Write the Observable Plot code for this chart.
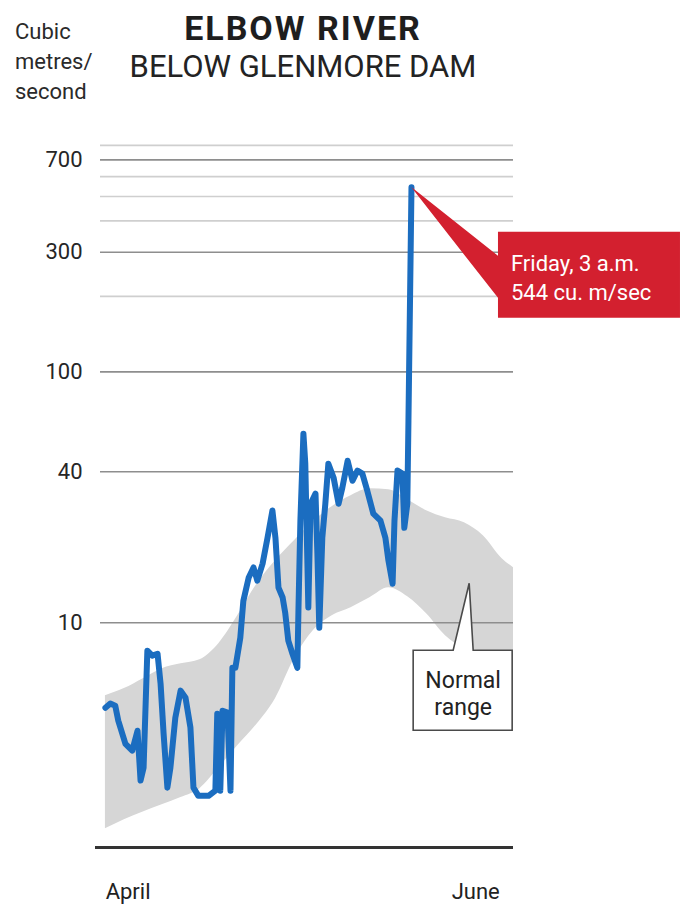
<!DOCTYPE html>
<html>
<head>
<meta charset="utf-8">
<script src="https://cdn.jsdelivr.net/npm/d3@7"></script>
<script src="https://cdn.jsdelivr.net/npm/@observablehq/plot@0.6"></script>
<style>
  body { margin: 0; background: #fff; font-family: Roboto, "Noto Sans", sans-serif; color: #232323; }
  #wrap { position: relative; width: 690px; height: 911px; overflow: hidden; }
  #head { position: relative; height: 110px; }
  .unit { position: absolute; left: 15px; top: 17px; font-size: 22px; line-height: 30px; color: #2a2a2a; }
  .title { position: absolute; left: 0; width: 606px; text-align: center; top: 11px; font-size: 34px; line-height: 34px; font-weight: 700; letter-spacing: 2px; color: #1e1e1e; }
  .subtitle { position: absolute; left: 0; width: 606px; text-align: center; top: 51px; font-size: 31px; line-height: 31px; font-weight: 400; color: #232323; }
  svg { display: block; }
</style>
</head>
<body>
<div id="wrap">
  <div id="head">
    <div class="unit">Cubic<br>metres/<br>second</div>
    <div class="title">ELBOW RIVER</div>
    <div class="subtitle">BELOW GLENMORE DAM</div>
  </div>
</div>
<script>
// ---- Data (days since April 1; flow in cubic metres/second) ----
const flowDays = [0, 1.3, 2.6, 3.4, 5.3, 7.1, 8.5, 9.3, 10.1, 11.1, 12.4, 13.8, 14.6, 15.4, 16.4, 17.2, 18.5, 19.9, 21.2, 22.5,
  23.3, 24.6, 27.3, 29.1, 29.6, 30.4, 31.0, 32.3, 33.1, 33.6, 34.4, 35.7, 36.5, 37.9, 39.2, 40.2, 41.6, 42.9, 44.2, 45.0,
  45.8, 46.9, 47.6, 48.4, 49.5, 50.8, 51.1, 51.6, 52.4, 52.9, 53.5, 53.7, 54.3, 55.6, 56.1, 56.6, 57.4, 58.2, 59.0, 60.4,
  61.7, 62.7, 64.1, 65.4, 66.7, 68.0, 69.3, 70.9, 72.8, 74.1, 74.9, 76.0, 76.5, 77.3, 78.6, 79.1, 79.9, 80.2, 81];
const flowValues = [4.58, 4.76, 4.67, 4.07, 3.29, 3.09, 3.71, 2.35, 2.64, 7.73, 7.39, 7.52, 5.71, 3.61, 2.20, 2.64, 4.18, 5.36, 5.02, 3.82,
  2.20, 2.04, 2.04, 2.14, 4.34, 2.14, 4.46, 4.38, 2.14, 6.61, 6.61, 8.71, 12.2, 15.1, 16.6, 14.7, 17.2, 21.8, 28.0, 21.8,
  13.8, 12.6, 10.9, 8.48, 7.52, 6.61, 11.5, 25.5, 56.7, 43.0, 16.1, 11.5, 29.8, 32.7, 18.8, 9.55, 21.8, 29.8, 43.0, 37.8,
  29.8, 34.5, 44.2, 36.8, 40.4, 39.3, 33.6, 27.2, 25.5, 21.8, 17.7, 14.3, 25.5, 40.4, 39.3, 23.9, 29.8, 63.8, 544];

const bandDays = [0, 5, 10, 15, 20, 25, 30, 35, 40, 45, 50, 55, 60, 65, 70, 75, 80, 85, 90, 95, 100, 105, 108];
const bandLow  = [1.51, 1.64, 1.76, 1.88, 2.01, 2.18, 2.64, 3.23, 3.92, 4.98, 7.19, 9.29, 10.66, 11.48, 12.58, 13.79, 12.69, 10.86, 8.88, 7.95, 7.73, 7.73, 7.73];
const bandHigh = [5.12, 5.46, 5.98, 6.56, 6.86, 7.12, 8.25, 10.66, 14.17, 17.67, 21.23, 25.27, 29.01, 32.08, 34.20, 33.89, 30.92, 27.95, 26.21, 25.04, 22.22, 17.99, 16.57];

const gridValues = [10, 40, 100, 200, 300, 400, 500, 600, 700, 800];
const yTickValues = [10, 40, 100, 300, 700];
const xTickDays = [6, 98];
const xTickLabels = ["April", "June"];

const peakDay = 81;
const peakValue = 544;
const peakLines = ["Friday, 3 a.m.", "544 cu. m/sec"];
const rangeAnchorDay = 96.4;
const rangeAnchorValue = 14.3;
const rangeLines = ["Normal", "range"];

// ---- Tables built from the arrays ----
const flow = flowDays.map((d, i) => ({day: d, value: flowValues[i]}));
const band = bandDays.map((d, i) => ({day: d, low: bandLow[i], high: bandHigh[i]}));
const xTicks = xTickDays.map((d, i) => ({day: d, label: xTickLabels[i]}));
const yMin = 1.27, yMax = 900;

const FONT = "Roboto, 'Noto Sans', sans-serif";

function peakCallout(index, scales) {
  const px = scales.x(peakDay), py = scales.y(peakValue);
  const g = d3.create("svg:g");
  const L = px + 87, R = px + 269, T = py + 45, B = py + 131;
  g.append("path")
    .attr("d", `M${px},${py}L${L},${py + 69}L${L},${T}L${R},${T}L${R},${B}L${L},${B}L${L},${py + 111}Z`)
    .attr("fill", "#d3202f");
  const t = g.append("g").attr("fill", "#fff").attr("font-family", FONT).attr("font-size", 22).attr("text-anchor", "start");
  peakLines.forEach((s, i) => t.append("text").attr("x", px + 100).attr("y", py + 84 + i * 29).text(s));
  return g.node();
}

function rangeCallout(index, scales) {
  const px = scales.x(rangeAnchorDay), py = scales.y(rangeAnchorValue);
  const g = d3.create("svg:g");
  const L = px - 56, R = px + 43, T = py + 67, B = py + 147;
  g.append("path")
    .attr("d", `M${L},${T}L${px - 16},${T}L${px},${py}L${px + 4},${T}L${R},${T}L${R},${B}L${L},${B}Z`)
    .attr("fill", "#fff").attr("stroke", "#4a4a4a").attr("stroke-width", 1.6).attr("stroke-linejoin", "miter");
  const t = g.append("g").attr("fill", "#222").attr("font-family", FONT).attr("font-size", 23).attr("text-anchor", "middle");
  rangeLines.forEach((s, i) => t.append("text").attr("x", px - 6).attr("y", py + 105 + i * 27).text(s));
  return g.node();
}

const chart = Plot.plot({
  width: 690,
  height: 801,
  marginLeft: 100,
  marginRight: 177,
  marginTop: 22,
  marginBottom: 64,
  style: {fontFamily: FONT, color: "#262626", background: "#fff", overflow: "visible"},
  x: {domain: [-1.3, 108], axis: null},
  y: {type: "log", domain: [yMin, yMax], axis: null},
  marks: [
    Plot.areaY(band, {x: "day", y1: "low", y2: "high", fill: "#d6d6d6", curve: "monotone-x"}),
    Plot.ruleY(gridValues.filter(v => !yTickValues.includes(v)), {stroke: "#cfcfcf", strokeWidth: 1.6}),
    Plot.ruleY(yTickValues, {stroke: "#8e8e8e", strokeWidth: 1.6}),
    Plot.line(flow, {x: "day", y: "value", stroke: "#1b6dc0", strokeWidth: 6, strokeLinejoin: "round", strokeLinecap: "round"}),
    Plot.ruleY([yMin], {stroke: "#333", strokeWidth: 3, insetLeft: -5}),
    Plot.axisY(yTickValues, {anchor: "left", tickSize: 0, tickPadding: 18, tickFormat: d => String(d), fontSize: 22, label: null}),
    Plot.text(xTicks, {x: "day", text: "label", frameAnchor: "bottom", dy: 44, fontSize: 22, lineAnchor: "middle", fill: "#222"}),
    peakCallout,
    rangeCallout
  ]
});
document.getElementById("wrap").appendChild(chart);
</script>
</body>
</html>
